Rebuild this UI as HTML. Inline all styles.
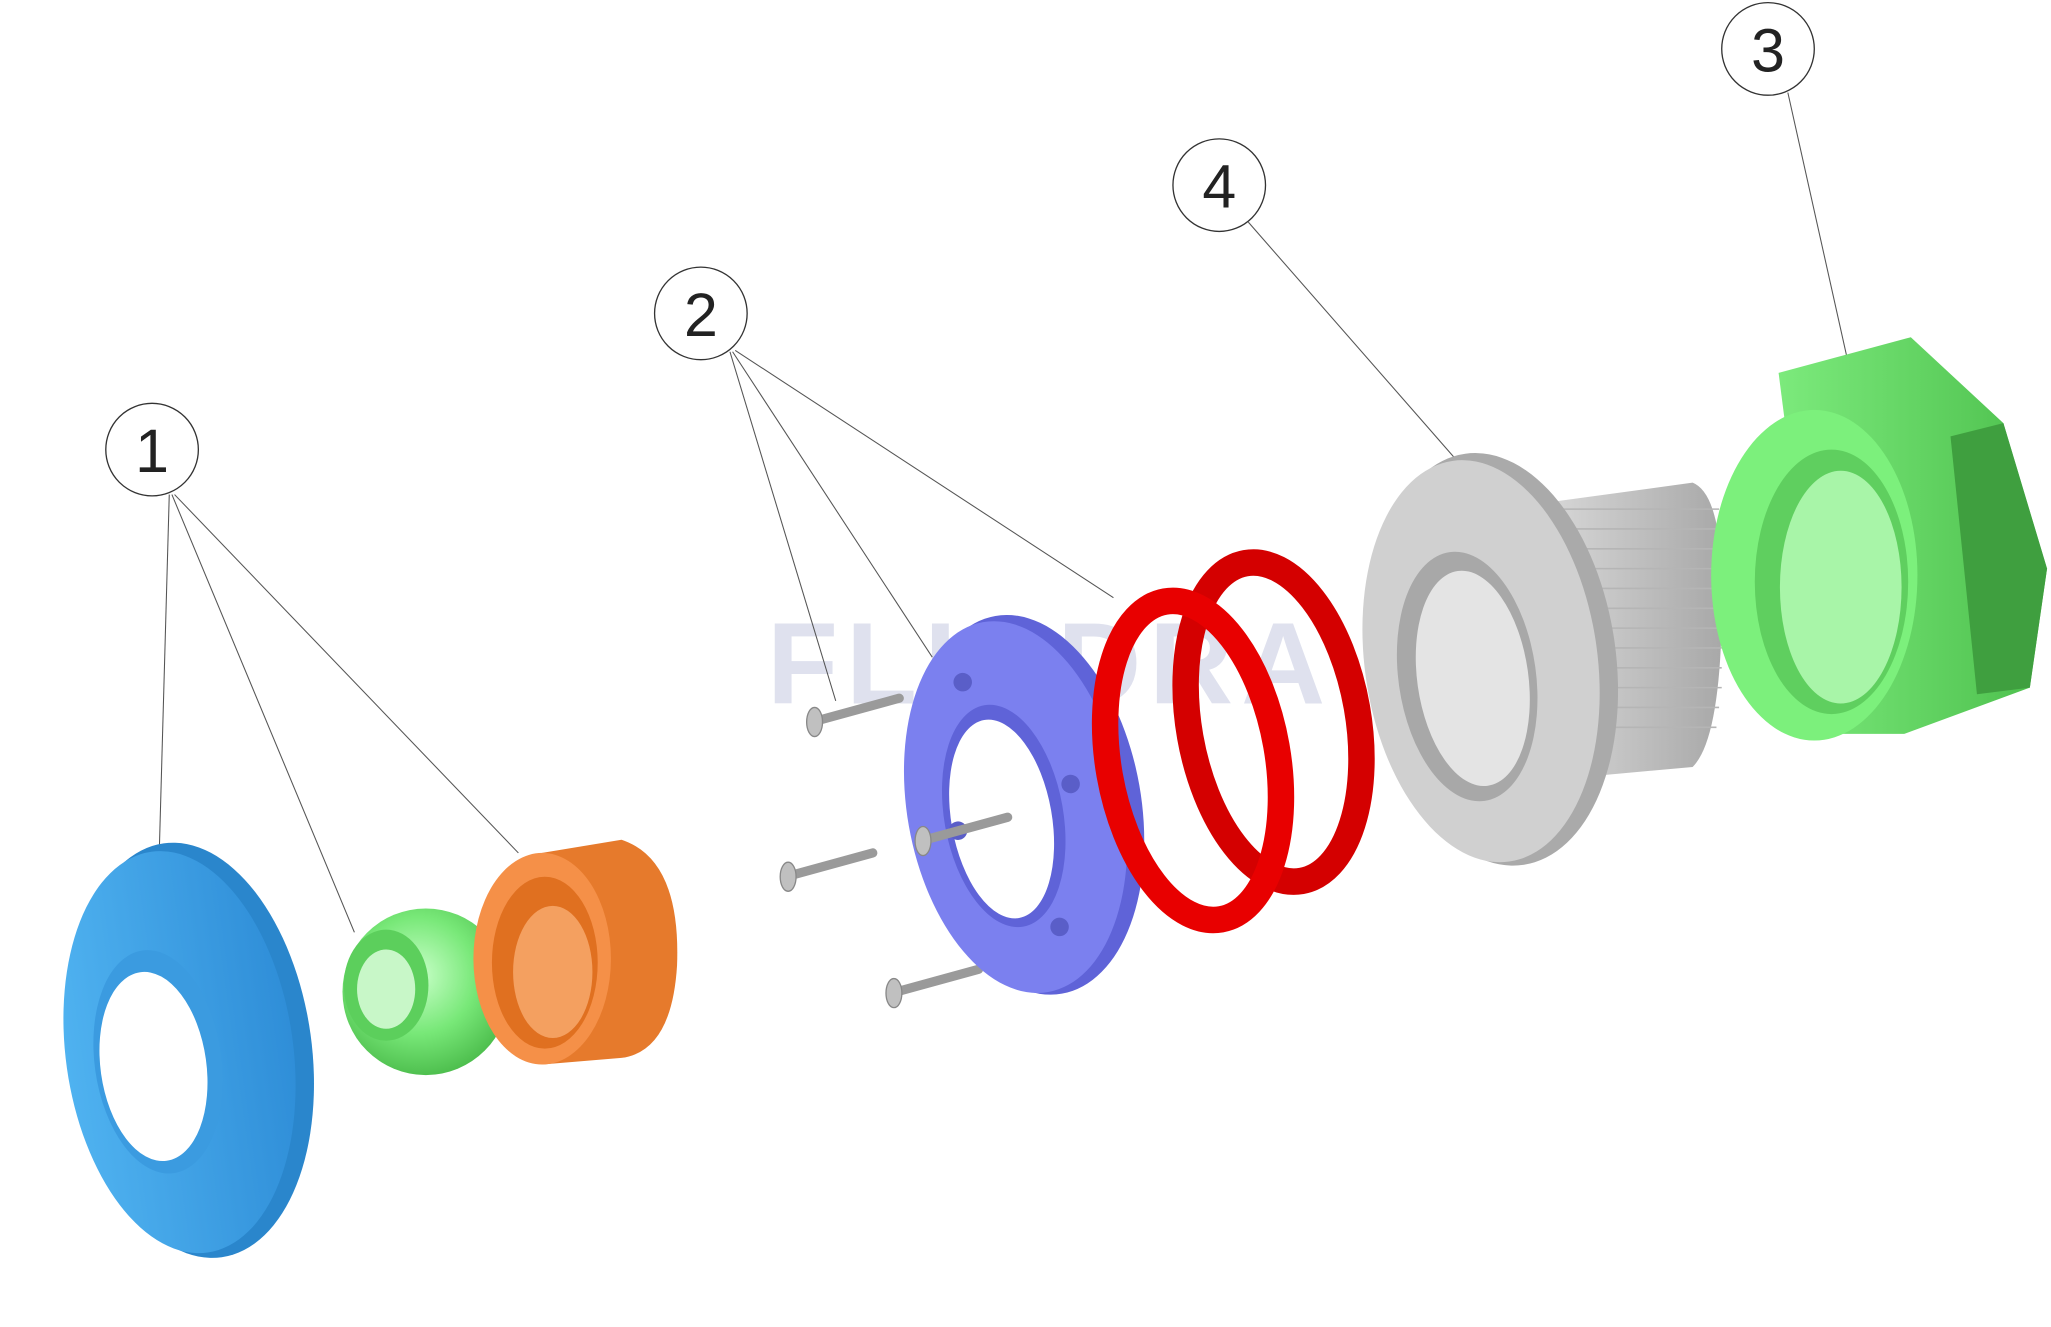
<!DOCTYPE html>
<html><head><meta charset="utf-8"><style>
html,body{margin:0;padding:0;background:#fff;width:2051px;height:1327px;overflow:hidden}
svg{display:block}
</style></head><body>
<svg width="2051" height="1327" viewBox="0 0 1551 1003.5" xmlns="http://www.w3.org/2000/svg">
<defs>
<radialGradient id="gball" cx="0.45" cy="0.4" r="0.7"><stop offset="0" stop-color="#c8ffc8"/><stop offset="0.5" stop-color="#78e878"/><stop offset="1" stop-color="#3fb03f"/></radialGradient>
<linearGradient id="gblue" x1="0" x2="1"><stop offset="0" stop-color="#4fb2f0"/><stop offset="1" stop-color="#2f8ed8"/></linearGradient>
<linearGradient id="ggray" x1="0" x2="1"><stop offset="0" stop-color="#d8d8d8"/><stop offset="1" stop-color="#a8a8a8"/></linearGradient>
<linearGradient id="gnut" x1="0" x2="1"><stop offset="0" stop-color="#7cea7c"/><stop offset="1" stop-color="#4cbf4c"/></linearGradient>
</defs>
<text x="580" y="532" font-family="Liberation Sans, sans-serif" font-size="88" font-weight="bold" fill="#dfe1ee" letter-spacing="6">FLUIDRA</text>

<g stroke="#555" stroke-width="0.8" fill="none">
<line x1="128" y1="374" x2="120" y2="660"/>
<line x1="130" y1="374" x2="268" y2="705"/>
<line x1="132" y1="374" x2="392" y2="645"/>
<line x1="552" y1="266" x2="632" y2="530"/>
<line x1="554" y1="266" x2="705" y2="497"/>
<line x1="556" y1="265" x2="842" y2="452"/>
<line x1="944" y1="168" x2="1105" y2="352"/>
<line x1="1352" y1="70" x2="1400" y2="285"/>
</g>

<g transform="rotate(-8 140 790)">
<ellipse cx="145" cy="795" rx="90" ry="158" fill="#2a86cc"/>
<ellipse cx="135" cy="795" rx="86" ry="153" fill="url(#gblue)"/>
<ellipse cx="118" cy="800" rx="48" ry="85" fill="#3b9be0"/>
<ellipse cx="114" cy="803" rx="40" ry="72" fill="#fff"/>
</g>

<circle cx="322" cy="750" r="63" fill="url(#gball)"/>
<ellipse cx="292" cy="745" rx="32" ry="42" fill="#5ccf5c"/>
<ellipse cx="292" cy="748" rx="22" ry="30" fill="#c8f7c8"/>

<path d="M410 645 L470 635 Q515 650 512 730 Q508 795 470 800 L410 805 Z" fill="#e67a2c"/>
<ellipse cx="410" cy="725" rx="52" ry="80" fill="#f59048"/>
<ellipse cx="412" cy="728" rx="40" ry="65" fill="#e07020"/>
<ellipse cx="418" cy="735" rx="30" ry="50" fill="#f4a060"/>

<g stroke="#9a9a9a" stroke-width="7" stroke-linecap="round">
<line x1="618" y1="545" x2="680" y2="528"/>
<line x1="598" y1="662" x2="660" y2="645"/>
<line x1="678" y1="750" x2="740" y2="733"/>
</g>
<g fill="#c0c0c0" stroke="#888" stroke-width="1">
<ellipse cx="616" cy="546" rx="6" ry="11"/>
<ellipse cx="596" cy="663" rx="6" ry="11"/>
<ellipse cx="676" cy="751" rx="6" ry="11"/>
</g>

<g transform="rotate(-10 770 610)">
<ellipse cx="778" cy="610" rx="85" ry="145" fill="#5f63d8"/>
<ellipse cx="768" cy="610" rx="82" ry="142" fill="#7b80ef"/>
<ellipse cx="758" cy="615" rx="45" ry="85" fill="#5f63d8"/>
<ellipse cx="756" cy="617" rx="38" ry="76" fill="#fff"/>
<circle cx="745" cy="510" r="7" fill="#5a5ec8"/>
<circle cx="812" cy="600" r="7" fill="#5a5ec8"/>
<circle cx="785" cy="705" r="7" fill="#5a5ec8"/>
<circle cx="722" cy="620" r="7" fill="#5a5ec8"/>
</g>
<line x1="700" y1="635" x2="762" y2="618" stroke="#9a9a9a" stroke-width="7" stroke-linecap="round"/>
<ellipse cx="698" cy="636" rx="6" ry="11" fill="#c0c0c0" stroke="#888" stroke-width="1"/>

<g transform="rotate(-10 930 560)" fill="none" stroke-width="20">
<ellipse cx="965" cy="552" rx="64" ry="122" stroke="#d40000"/>
<ellipse cx="900" cy="570" rx="64" ry="122" stroke="#e80000"/>
</g>

<path d="M1170 380 L1280 365 Q1305 375 1302 470 Q1300 560 1280 580 L1170 590 Z" fill="url(#ggray)"/>
<g stroke="#b5b5b5" stroke-width="1.2">
<line x1="1180" y1="385" x2="1300" y2="385"/><line x1="1180" y1="400" x2="1302" y2="400"/>
<line x1="1180" y1="415" x2="1302" y2="415"/><line x1="1180" y1="430" x2="1302" y2="430"/>
<line x1="1180" y1="445" x2="1302" y2="445"/><line x1="1180" y1="460" x2="1302" y2="460"/>
<line x1="1180" y1="475" x2="1302" y2="475"/><line x1="1180" y1="490" x2="1302" y2="490"/>
<line x1="1180" y1="505" x2="1302" y2="505"/><line x1="1180" y1="520" x2="1302" y2="520"/>
<line x1="1180" y1="535" x2="1300" y2="535"/><line x1="1180" y1="550" x2="1298" y2="550"/>
</g>
<g transform="rotate(-8 1120 500)">
<ellipse cx="1130" cy="500" rx="92" ry="157" fill="#aaa"/>
<ellipse cx="1120" cy="500" rx="88" ry="153" fill="#d0d0d0"/>
<ellipse cx="1108" cy="510" rx="52" ry="95" fill="#a8a8a8"/>
<ellipse cx="1112" cy="512" rx="42" ry="82" fill="#e4e4e4"/>
</g>

<path d="M1345 282 L1445 255 L1515 320 L1548 430 L1535 520 L1440 555 L1380 555 Z" fill="url(#gnut)"/>
<path d="M1475 330 L1515 320 L1548 430 L1535 520 L1495 525 Z" fill="#3f9f3f"/>
<ellipse cx="1372" cy="435" rx="78" ry="125" fill="#7cf07c"/>
<ellipse cx="1385" cy="440" rx="58" ry="100" fill="#5fcf5f"/>
<ellipse cx="1392" cy="444" rx="46" ry="88" fill="#a8f5a8"/>

<g fill="#fff" stroke="#333" stroke-width="1">
<circle cx="115" cy="340" r="35"/>
<circle cx="530" cy="237" r="35"/>
<circle cx="922" cy="140" r="35"/>
<circle cx="1337" cy="37" r="35"/>
</g>
<g font-family="Liberation Sans, sans-serif" font-size="46" fill="#222" text-anchor="middle">
<text x="115" y="357">1</text>
<text x="530" y="254">2</text>
<text x="922" y="157">4</text>
<text x="1337" y="54">3</text>
</g>
</svg>
</body></html>
